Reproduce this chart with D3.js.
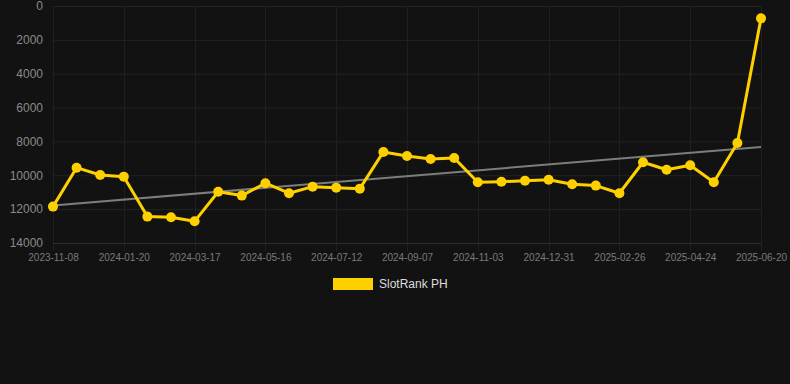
<!DOCTYPE html>
<html>
<head>
<meta charset="utf-8">
<script src="https://cdn.jsdelivr.net/npm/d3@7"></script>
<style>
  html, body { margin: 0; padding: 0; background: #121212; }
  svg { display: block; font-family: "Liberation Sans", Arial, sans-serif; }
</style>
</head>
<body>
<div id="chart"></div>
<script>
// categories (only every 3rd one is labelled on the axis)
const dates = [
  "2023-11-08", "2023-12-02", "2023-12-26", "2024-01-20", "2024-02-07", "2024-02-26",
  "2024-03-17", "2024-04-06", "2024-04-26", "2024-05-16", "2024-06-04", "2024-06-23",
  "2024-07-12", "2024-07-31", "2024-08-19", "2024-09-07", "2024-09-26", "2024-10-15",
  "2024-11-03", "2024-11-22", "2024-12-11", "2024-12-31", "2025-01-19", "2025-02-07",
  "2025-02-26", "2025-03-17", "2025-04-05", "2025-04-24", "2025-05-13", "2025-06-01",
  "2025-06-20"
];
const rankValues = [
  11850, 9550, 9980, 10080, 12440, 12480, 12720, 10970, 11200, 10470, 11060, 10670,
  10730, 10790, 8620, 8860, 9040, 8980, 10410, 10380, 10320, 10260, 10530, 10610,
  11060, 9230, 9670, 9410, 10410, 8090, 730
];
const yTicks = [0, 2000, 4000, 6000, 8000, 10000, 12000, 14000];
const seriesName = "SlotRank PH";

const width = 790, height = 384;
const gold = "#ffd000";

const svg = d3.select("#chart").append("svg")
  .attr("width", width).attr("height", height);

const x = d3.scalePoint().domain(dates).range([53, 761]);
const y = d3.scaleLinear().domain([0, 14000]).range([6, 243]);

const shownDates = dates.filter((d, i) => i % 3 === 0);

// grid
svg.append("g").selectAll("line")
  .data(shownDates).enter().append("line")
  .attr("x1", d => Math.round(x(d)) + 0.5).attr("x2", d => Math.round(x(d)) + 0.5)
  .attr("y1", y(0)).attr("y2", y(14000) + 8)
  .attr("stroke", "#1f1f1f").attr("stroke-width", 1);

svg.append("g").selectAll("line")
  .data(yTicks).enter().append("line")
  .attr("x1", 53).attr("x2", 761)
  .attr("y1", d => y(d) + 0.5).attr("y2", d => y(d) + 0.5)
  .attr("stroke", d => d === 14000 ? "#2c2c2c" : "#232323").attr("stroke-width", 1);

// y axis labels
const yAxis = svg.append("g")
  .attr("transform", "translate(53,0)")
  .call(d3.axisLeft(y).tickValues(yTicks).tickFormat(d3.format("d")).tickSize(0).tickPadding(10));
yAxis.select(".domain").remove();
yAxis.selectAll("text").attr("fill", "#8a8a8a").attr("font-size", 12)
  .attr("font-family", "Liberation Sans, Arial, sans-serif");

// x axis labels
const xAxis = svg.append("g")
  .attr("transform", "translate(0,243)")
  .call(d3.axisBottom(x).tickValues(shownDates).tickSize(0).tickPadding(11));
xAxis.select(".domain").remove();
xAxis.selectAll("text").attr("fill", "#7a7a7a").attr("font-size", 10)
  .attr("font-family", "Liberation Sans, Arial, sans-serif");

// linear trend of the series
const n = rankValues.length;
const mi = d3.mean(rankValues, (v, i) => i);
const mv = d3.mean(rankValues);
const slope = d3.sum(rankValues, (v, i) => (i - mi) * (v - mv)) / d3.sum(rankValues, (v, i) => (i - mi) ** 2);
const trendAt = i => mv + slope * (i - mi);

svg.append("line")
  .attr("x1", x(dates[0])).attr("y1", y(trendAt(0)))
  .attr("x2", x(dates[n - 1])).attr("y2", y(trendAt(n - 1)))
  .attr("stroke", "#7d7d7d").attr("stroke-width", 2);

// series
const line = d3.line()
  .x((v, i) => x(dates[i]))
  .y(v => y(v));

svg.append("path")
  .datum(rankValues)
  .attr("d", line)
  .attr("fill", "none")
  .attr("stroke", gold)
  .attr("stroke-width", 3)
  .attr("stroke-linejoin", "round");

svg.append("g").selectAll("circle")
  .data(rankValues).enter().append("circle")
  .attr("cx", (v, i) => x(dates[i]))
  .attr("cy", v => y(v))
  .attr("r", 5)
  .attr("fill", gold);

// legend
const legend = svg.append("g").attr("transform", "translate(333,278)");
legend.append("rect")
  .attr("width", 40).attr("height", 12)
  .attr("fill", gold);
legend.append("text")
  .attr("x", 46).attr("y", 6)
  .attr("dy", "0.35em")
  .attr("fill", "#dddddd")
  .attr("font-size", 12)
  .text(seriesName);
</script>
</body>
</html>
